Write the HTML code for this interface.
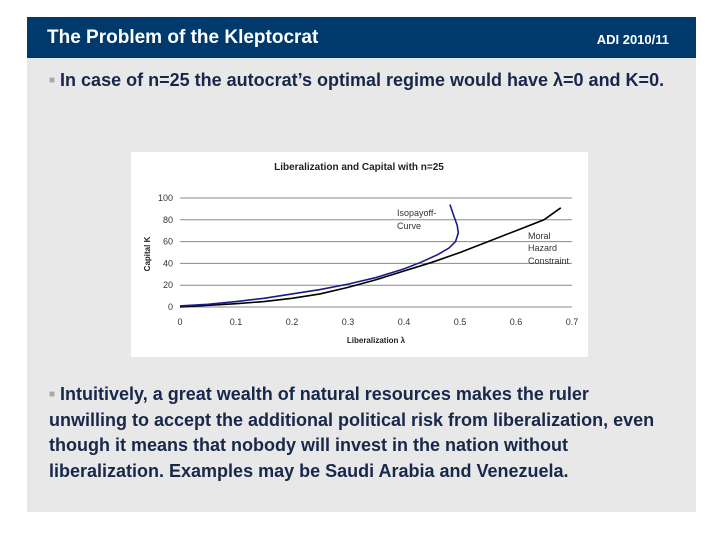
<!DOCTYPE html>
<html><head><meta charset="utf-8"><style>
body{margin:0;width:720px;height:540px;background:#fff;font-family:"Liberation Sans",sans-serif;position:relative;overflow:hidden}
#hdr{position:absolute;left:27px;top:17px;width:669px;height:41px;background:#003a6c;color:#fff}
#title{position:absolute;left:20px;top:10px;font-size:19px;font-weight:bold}
#adi{position:absolute;right:27px;top:15px;font-size:13px;font-weight:bold}
#panel{position:absolute;left:27px;top:58px;width:669px;height:454px;background:#e8e8e8}
.txt{position:absolute;color:#17284a;font-size:18px;font-weight:bold}
.b{color:#a8a8a8;font-size:10px;vertical-align:3px}
#chart{position:absolute;left:131px;top:152px;width:457px;height:205px;background:#fff}
</style></head><body>
<div id="hdr">
<div id="title">The Problem of the Kleptocrat</div>
<div id="adi">ADI 2010/11</div></div>
<div id="panel"></div>
<div class="txt" style="left:49px;top:70px;white-space:nowrap"><span class="b">■</span> In case of n=25 the autocrat’s optimal regime would have λ=0 and K=0.</div>
<div id="chart">
<svg width="457" height="205" id="svg"></svg></div>
<div class="txt" style="left:49px;top:382px;line-height:25.5px;width:660px;white-space:nowrap"><span class="b">■</span> Intuitively, a great wealth of natural resources makes the ruler<br>unwilling to accept the additional political risk from liberalization, even<br>though it means that nobody will invest in the nation without<br>liberalization. Examples may be Saudi Arabia and Venezuela.</div>
<script>
const xTicks=[0,0.1,0.2,0.3,0.4,0.5,0.6,0.7];
const xTickLabels=["0","0.1","0.2","0.3","0.4","0.5","0.6","0.7"];
const yTicks=[0,20,40,60,80,100];
const mhL=[0,0.05,0.1,0.15,0.2,0.25,0.3,0.35,0.4,0.45,0.5,0.55,0.6,0.65,0.68];
const mhK=[0,1.5,3,5,8,12,18,25,33,41,50,60,70,80,91];
const isoL=[0,0.05,0.1,0.15,0.2,0.25,0.3,0.35,0.4,0.43,0.46,0.48,0.492,0.497,0.495,0.49,0.482];
const isoK=[1,2.5,5,8,12,16,21,27,35,41,48,54,60,68,75,82,94];
const ns="http://www.w3.org/2000/svg",svg=document.getElementById('svg');
const X=v=>49+v/0.7*392, Y=v=>155-v*1.09;
function mk(t,a,txt){const e=document.createElementNS(ns,t);for(const k in a)e.setAttribute(k,a[k]);if(txt!=null)e.textContent=txt;svg.appendChild(e);return e;}
let e;
yTicks.forEach(v=>{
e=mk('line',{x1:X(0),x2:X(0.7),y1:Y(v),y2:Y(v),stroke:'#888','stroke-width':1});


e=mk('text',{x:X(0)-7,y:Y(v)+3,'font-size':9,'text-anchor':'end',fill:'#333'},String(v));


});
xTicks.forEach((v,i)=>{
e=mk('text',{x:X(v),y:173,'font-size':9,'text-anchor':'middle',fill:'#333'},xTickLabels[i]);


});
e=mk('text',{x:228,y:18,'font-size':10,'font-weight':'bold','text-anchor':'middle',fill:'#222'},'Liberalization and Capital with n=25');


e=mk('text',{x:245,y:191,'font-size':8,'font-weight':'bold','text-anchor':'middle',fill:'#222'},'Liberalization λ');


e=mk('text',{x:0,y:0,'font-size':8,'font-weight':'bold','text-anchor':'middle',fill:'#222',transform:'translate(19,102) rotate(-90)'},'Capital K');


e=mk('polyline',{points:mhL.map((l,i)=>X(l)+','+Y(mhK[i])).join(' '),fill:'none',stroke:'#000','stroke-width':1.6});


e=mk('polyline',{points:isoL.map((l,i)=>X(l)+','+Y(isoK[i])).join(' '),fill:'none',stroke:'#1a1a8a','stroke-width':1.6});


[['Isopayoff-',266,64],['Curve',266,77],['Moral',397,87],['Hazard',397,99],['Constraint',397,112]].forEach(a=>{
e=mk('text',{x:a[1],y:a[2],'font-size':9,fill:'#333'},a[0]);


});
</script>
</body></html>
